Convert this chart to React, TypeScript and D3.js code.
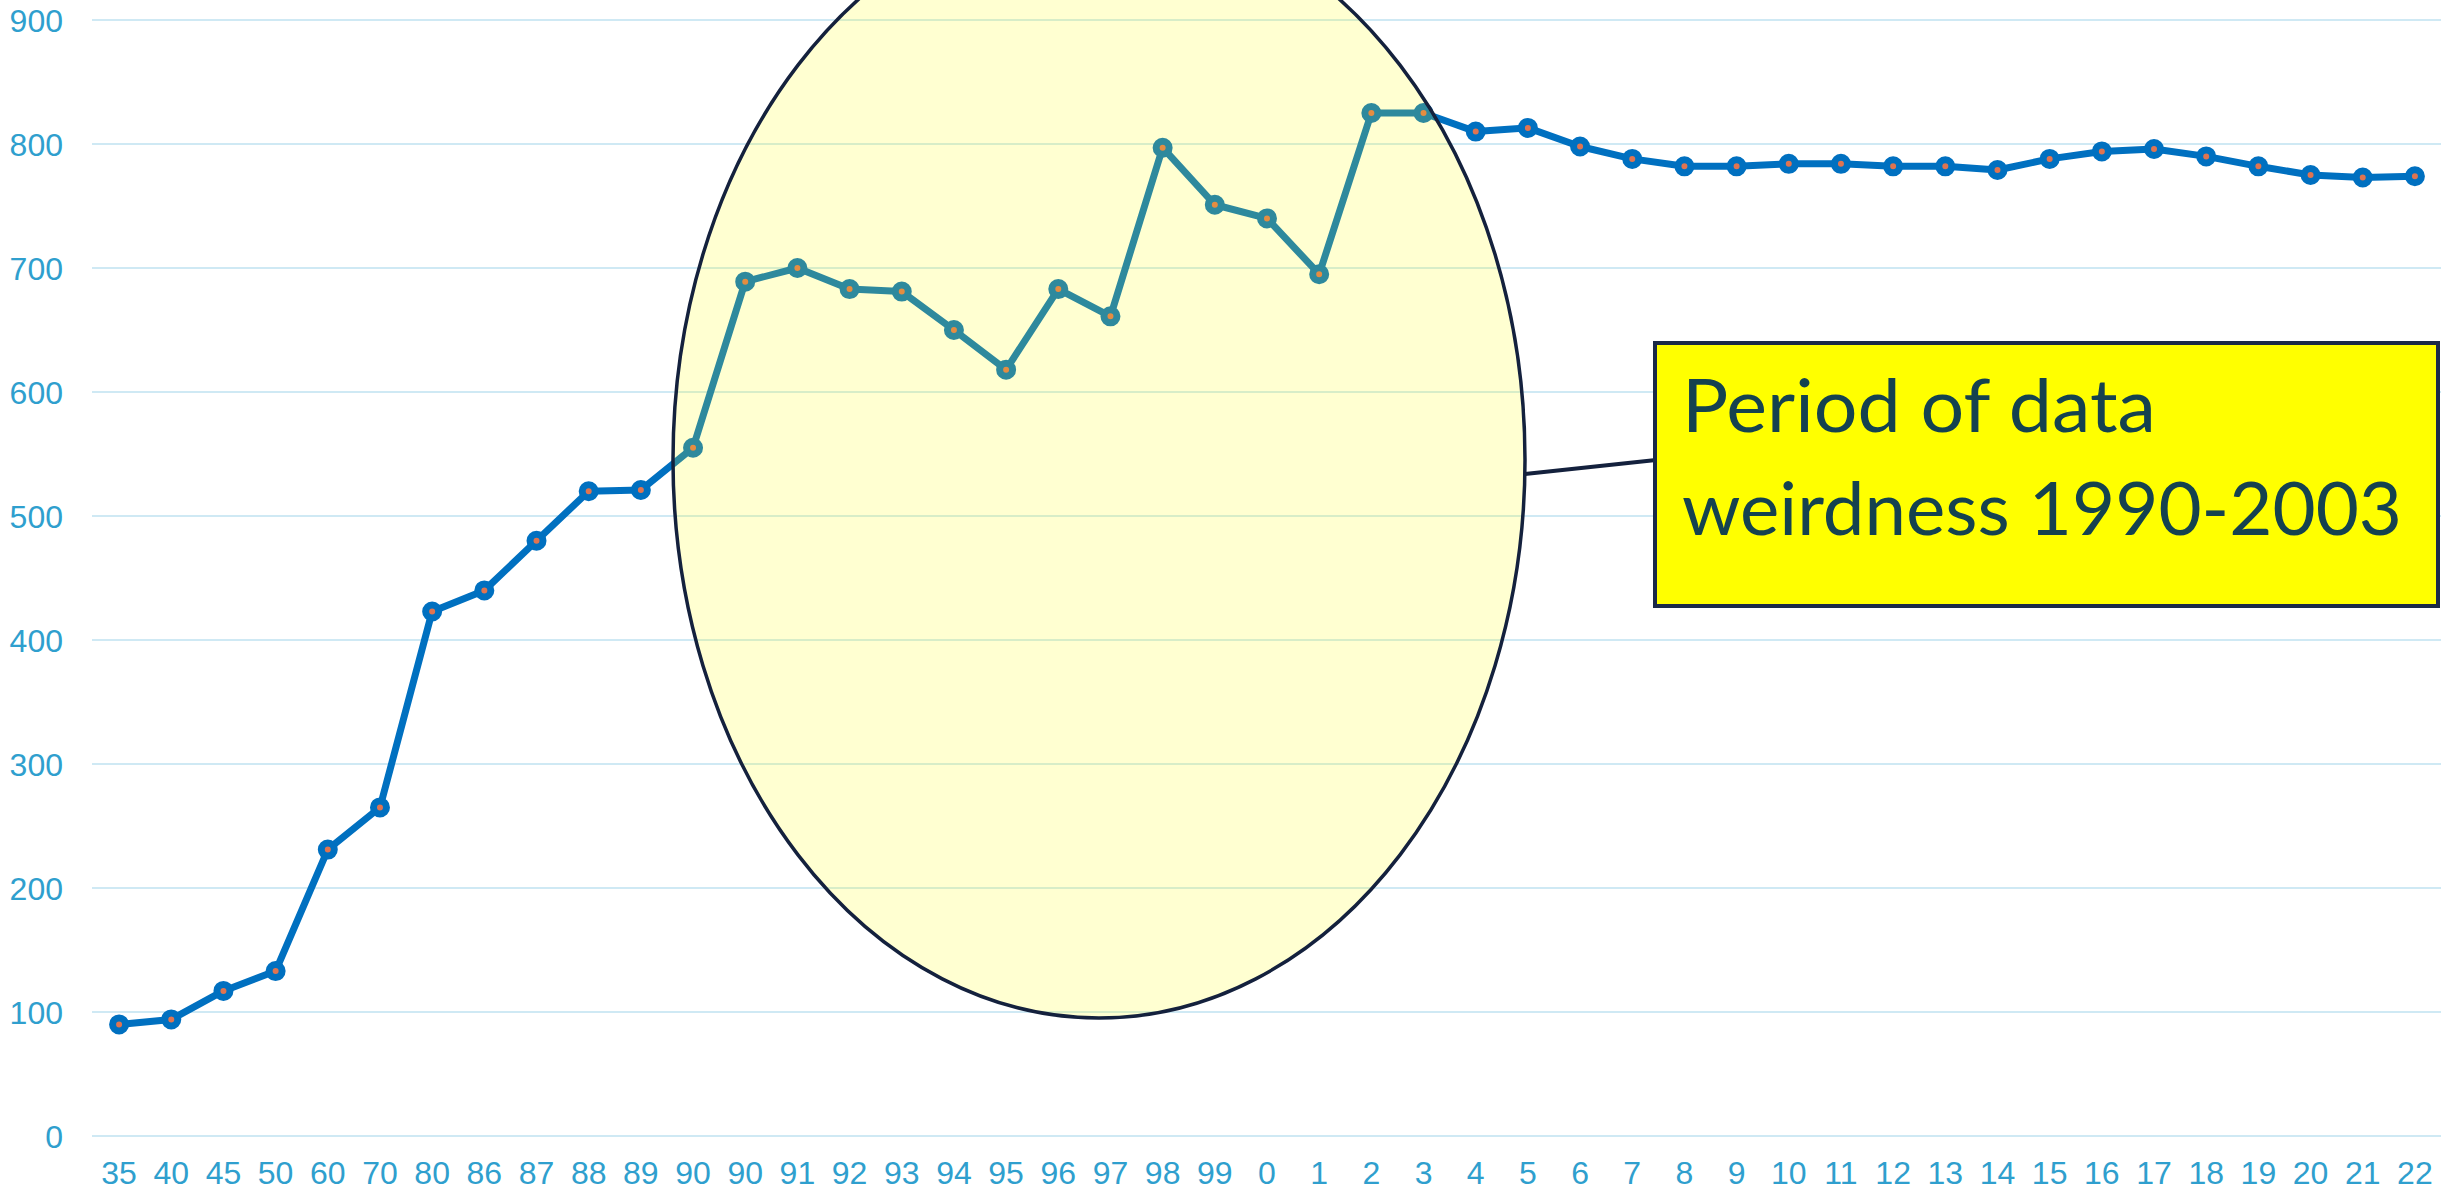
import * as d3 from 'd3';
import React, { useEffect, useRef } from 'react';

// x labels (years, shortened as in the source sheet)
const categories = [
  '35', '40', '45', '50', '60', '70', '80', '86', '87', '88', '89', '90',
  '90', '91', '92', '93', '94', '95', '96', '97', '98', '99',
  '0', '1', '2', '3', '4', '5', '6', '7', '8', '9', '10', '11', '12', '13',
  '14', '15', '16', '17', '18', '19', '20', '21', '22',
];

const values = [
  90, 94, 117, 133, 231, 265, 423, 440, 480, 520, 521, 555,
  689, 700, 683, 681, 650, 618, 683, 661, 797, 751,
  740, 695, 825, 825, 810, 813, 798, 788, 782, 782, 784, 784, 782, 782,
  779, 788, 794, 796, 790, 782, 775, 773, 774,
];

const yTicks = [0, 100, 200, 300, 400, 500, 600, 700, 800, 900];

const calloutLines = ['Period of data', 'weirdness 1990-2003'];
const calloutWidths = [474, 720];

const W = 2445;
const H = 1196;

const LineChart = () => {
  const svgRef = useRef(null);

  useEffect(() => {
    const svg = d3.select(svgRef.current);
    svg.selectAll('*').remove();

    const x = d3
      .scaleBand<number>()
      .domain(d3.range(categories.length))
      .range([93, 2441]);
    const cx = (i: number) => (x(i) as number) + x.bandwidth() / 2;
    const y = d3.scaleLinear().domain([0, 900]).range([1136, 20]);

    // gridlines
    svg
      .append('g')
      .selectAll('line')
      .data(yTicks)
      .enter()
      .append('line')
      .attr('x1', 92)
      .attr('x2', 2441)
      .attr('y1', (d) => y(d))
      .attr('y2', (d) => y(d))
      .style('stroke', '#cfe9f4')
      .style('stroke-width', 2);

    // y labels
    svg
      .append('g')
      .selectAll('text')
      .data(yTicks)
      .enter()
      .append('text')
      .attr('x', 63)
      .attr('y', (d) => y(d))
      .attr('dy', '0.36em')
      .attr('text-anchor', 'end')
      .style('font-family', 'Arial, "Liberation Sans", sans-serif')
      .style('font-size', '32px')
      .style('fill', '#2f9fce')
      .text((d) => d);

    // x labels
    svg
      .append('g')
      .selectAll('text')
      .data(categories)
      .enter()
      .append('text')
      .attr('x', (_d, i) => cx(i))
      .attr('y', 1172)
      .attr('dy', '0.36em')
      .attr('text-anchor', 'middle')
      .style('font-family', 'Arial, "Liberation Sans", sans-serif')
      .style('font-size', '32px')
      .style('fill', '#2f9fce')
      .text((d) => d);

    const line = d3
      .line<number>()
      .x((_d, i) => cx(i))
      .y((d) => y(d));

    svg
      .append('path')
      .datum(values)
      .attr('d', line)
      .style('fill', 'none')
      .style('stroke', '#0070c0')
      .style('stroke-width', 7)
      .style('stroke-linejoin', 'round');

    svg
      .append('g')
      .selectAll('circle')
      .data(values)
      .enter()
      .append('circle')
      .attr('cx', (_d, i) => cx(i))
      .attr('cy', (d) => y(d))
      .attr('r', 6.5)
      .style('fill', '#e07450')
      .style('stroke', '#0070c0')
      .style('stroke-width', 7);

    // highlight ellipse (translucent yellow on top)
    const ell = { cx: 1099, cy: 460, rx: 426, ry: 558 };
    svg
      .append('ellipse')
      .attr('cx', ell.cx)
      .attr('cy', ell.cy)
      .attr('rx', ell.rx)
      .attr('ry', ell.ry)
      .style('fill', '#ffff00')
      .style('fill-opacity', 0.18)
      .style('stroke', '#14213d')
      .style('stroke-width', 3.5);

    // leader line
    svg
      .append('line')
      .attr('x1', ell.cx + ell.rx)
      .attr('y1', 474)
      .attr('x2', 1656)
      .attr('y2', 460)
      .style('stroke', '#14213d')
      .style('stroke-width', 4);

    // callout box
    svg
      .append('rect')
      .attr('x', 1655)
      .attr('y', 343)
      .attr('width', 783)
      .attr('height', 263)
      .style('fill', '#ffff00')
      .style('stroke', '#1b2a47')
      .style('stroke-width', 4);

    svg
      .append('g')
      .selectAll('text')
      .data(calloutLines)
      .enter()
      .append('text')
      .attr('x', 1682)
      .attr('y', (_d, i) => 432 + i * 103)
      .attr('textLength', (_d, i) => calloutWidths[i])
      .attr('lengthAdjust', 'spacingAndGlyphs')
      .style('font-family', 'Lato, "Open Sans", sans-serif')
      .style('font-size', '74px')
      .style('fill', '#15424f')
      .text((d) => d);
  }, []);

  return (
    <svg
      ref={svgRef}
      width={W}
      height={H}
      style={{ position: 'absolute', left: 0, top: 0, background: '#fff' }}
    />
  );
};

export default function App() {
  return <LineChart />;
}
